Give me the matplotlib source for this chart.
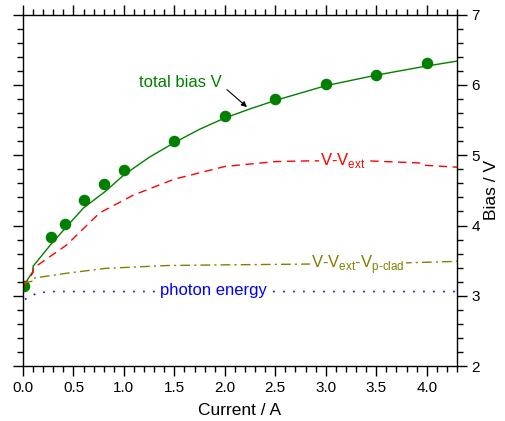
import numpy as np
import matplotlib
matplotlib.use('Agg')
import matplotlib.pyplot as plt
from matplotlib.ticker import MultipleLocator

plt.rcParams['font.family'] = ['Liberation Sans', 'DejaVu Sans']
plt.rcParams['mathtext.fontset'] = 'custom'
plt.rcParams['mathtext.rm'] = 'Liberation Sans'

# measured total bias (dots)
meas_i = [0.01, 0.28, 0.42, 0.60, 0.80, 1.00, 1.50, 2.00, 2.50, 3.00, 3.50, 4.00]
meas_v = [3.14, 3.83, 4.02, 4.36, 4.59, 4.79, 5.20, 5.56, 5.80, 6.01, 6.14, 6.31]

# model curves
cur = [0.0, 0.1, 0.1, 0.27, 0.43, 0.6, 0.82, 1.0, 1.25, 1.5, 1.75, 2.0, 2.25, 2.5, 3.0, 3.5, 4.0, 4.3]
v_total = [3.13, 3.35, 3.42, 3.72, 3.98, 4.25, 4.49, 4.72, 4.97, 5.18, 5.37, 5.53, 5.66, 5.78, 5.99, 6.14, 6.27, 6.34]

cur_ext = [0.0, 0.1, 0.1, 0.43, 0.76, 1.09, 1.5, 2.0, 2.5, 2.83, 3.42, 3.93, 3.95, 4.3]
v_ext = [3.12, 3.33, 3.39, 3.72, 4.18, 4.43, 4.66, 4.84, 4.91, 4.92, 4.92, 4.89, 4.86, 4.83]

cur_clad = [0.0, 0.1, 0.1, 0.43, 0.82, 1.42, 2.0, 2.75, 3.3, 3.84, 4.3]
v_clad = [3.18, 3.21, 3.25, 3.32, 3.39, 3.43, 3.44, 3.45, 3.46, 3.47, 3.49]

cur_ph = [0.02, 0.1, 0.13, 0.3, 1.0, 2.0, 3.0, 4.3]
v_ph = [2.95, 3.0, 3.04, 3.06, 3.06, 3.06, 3.06, 3.06]

green = '#008000'
red = '#ff0000'
olive = '#808000'
blue = '#0000ff'

fig = plt.figure(figsize=(5.05, 4.21), dpi=100)
ax = fig.add_axes([0.0455, 0.1306, 0.8594, 0.8344])

ax.plot(cur, v_total, color=green, lw=1.0)
ax.plot(meas_i, meas_v, 'o', color=green, ms=7.3)
ax.plot(cur_ext, v_ext, color=red, lw=1.0, dashes=(6, 4))
ax.plot(cur_clad, v_clad, color=olive, lw=1.0, dashes=(7, 3, 1.5, 3))
ax.plot(cur_ph, v_ph, color=blue, lw=1.2, dashes=(1, 5))

box = dict(facecolor='white', edgecolor='none', pad=1)
ax.text(1.56, 6.04, 'total bias V', color=green, fontsize=12, ha='center', va='center')
ax.annotate('', xy=(2.24, 5.66), xytext=(2.0, 5.96),
            arrowprops=dict(arrowstyle='-|>', color='black', lw=0.8, mutation_scale=8))
ax.text(3.17, 4.92, r'V-V$_{\mathrm{ext}}$', color=red, fontsize=12,
        ha='center', va='center', bbox=box)
ax.text(3.32, 3.45, r'V-V$_{\mathrm{ext}}$-V$_{\mathrm{p\text{-}clad}}$', color=olive, fontsize=12,
        ha='center', va='center', bbox=box)
ax.text(1.89, 3.07, 'photon energy', color=blue, fontsize=12,
        ha='center', va='center', bbox=box)

ax.set_xlim(0, 4.3)
ax.set_ylim(2, 7)
ax.xaxis.set_major_locator(MultipleLocator(0.5))
ax.xaxis.set_minor_locator(MultipleLocator(0.1))
ax.yaxis.set_major_locator(MultipleLocator(1))
ax.yaxis.set_minor_locator(MultipleLocator(0.2))
ax.xaxis.set_major_formatter(lambda v, p: f'{v:.1f}')

ax.tick_params(which='both', direction='out', top=True, right=True,
               labelleft=False, labelright=True, labelsize=11, width=1.0)
ax.tick_params(which='major', length=7)
ax.tick_params(which='minor', length=4)
for s in ax.spines.values():
    s.set_linewidth(1.0)

ax.set_xlabel('Current / A', fontsize=12.5, labelpad=6)
ax.yaxis.set_label_position('right')
ax.set_ylabel('Bias / V', fontsize=12.5, labelpad=3)

fig.savefig('out.png', dpi=100)
